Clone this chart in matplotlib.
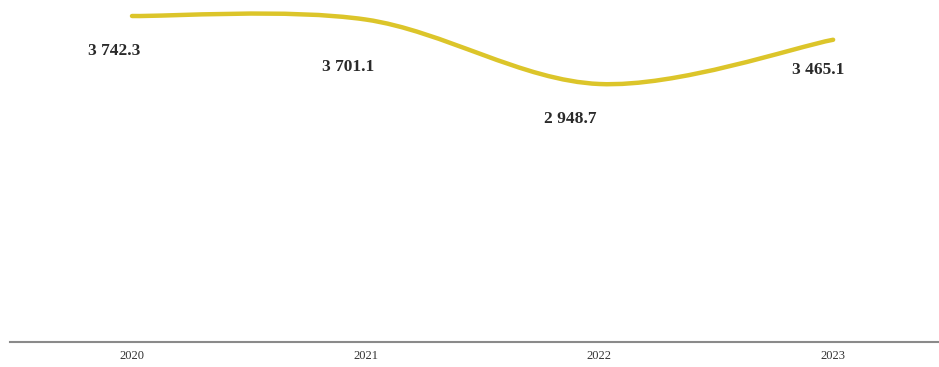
import matplotlib
matplotlib.use("Agg")
import matplotlib.pyplot as plt
from matplotlib.path import Path
from matplotlib.patches import PathPatch

# ── Data ─────────────────────────────────────────────────────────────────────
years = ["2020", "2021", "2022", "2023"]
values = [3742.3, 3701.1, 2948.7, 3465.1]
labels = ["3 742.3", "3 701.1", "2 948.7", "3 465.1"]

# label placement (pixels, relative to the point)
LABEL_OFFSETS = [(-18, -35), (-18, -47), (-29, -35), (-15, -30)]
LINE_COLOR = "#DCC52A"

fig = plt.figure(figsize=(9.39, 3.67), dpi=100)
ax = fig.add_axes([10 / 939, (367 - 342) / 367, 929 / 939, 342 / 367])

# smoothed line (Excel-style) drawn as cubic bezier segments
xs = list(range(len(values)))
pts = list(zip(xs, values))
t = 1 / 6
verts = [pts[0]]
codes = [Path.MOVETO]
for i in range(len(pts) - 1):
    p0 = pts[i - 1] if i > 0 else pts[i]
    p1 = pts[i]
    p2 = pts[i + 1]
    p3 = pts[i + 2] if i + 2 < len(pts) else pts[i + 1]
    c1 = (p1[0] + (p2[0] - p0[0]) * t, p1[1] + (p2[1] - p0[1]) * t)
    c2 = (p2[0] - (p3[0] - p1[0]) * t, p2[1] - (p3[1] - p1[1]) * t)
    verts += [c1, c2, p2]
    codes += [Path.CURVE4] * 3
ax.add_patch(PathPatch(Path(verts, codes), facecolor="none",
                       edgecolor=LINE_COLOR, lw=3.2, capstyle="round"))

for x, v, s, off in zip(xs, values, labels, LABEL_OFFSETS):
    ax.annotate(s, (x, v), xytext=off, textcoords="offset pixels",
                ha="center", va="center", fontsize=12.5, fontweight="bold",
                family="Liberation Serif", color="#2a2a2a")

ax.set_xlim(-0.522, 3.453)
ax.set_ylim(-62, 3929)
ax.set_xticks(xs)
ax.set_xticklabels(years, family="Liberation Serif", fontsize=9, color="#333333")
ax.tick_params(axis="x", length=0, pad=6)
ax.set_yticks([])
for side in ["top", "right", "left"]:
    ax.spines[side].set_visible(False)
ax.spines["bottom"].set_color("#8a8a8a")
ax.spines["bottom"].set_linewidth(1.5)

fig.savefig("out.png", dpi=100)
